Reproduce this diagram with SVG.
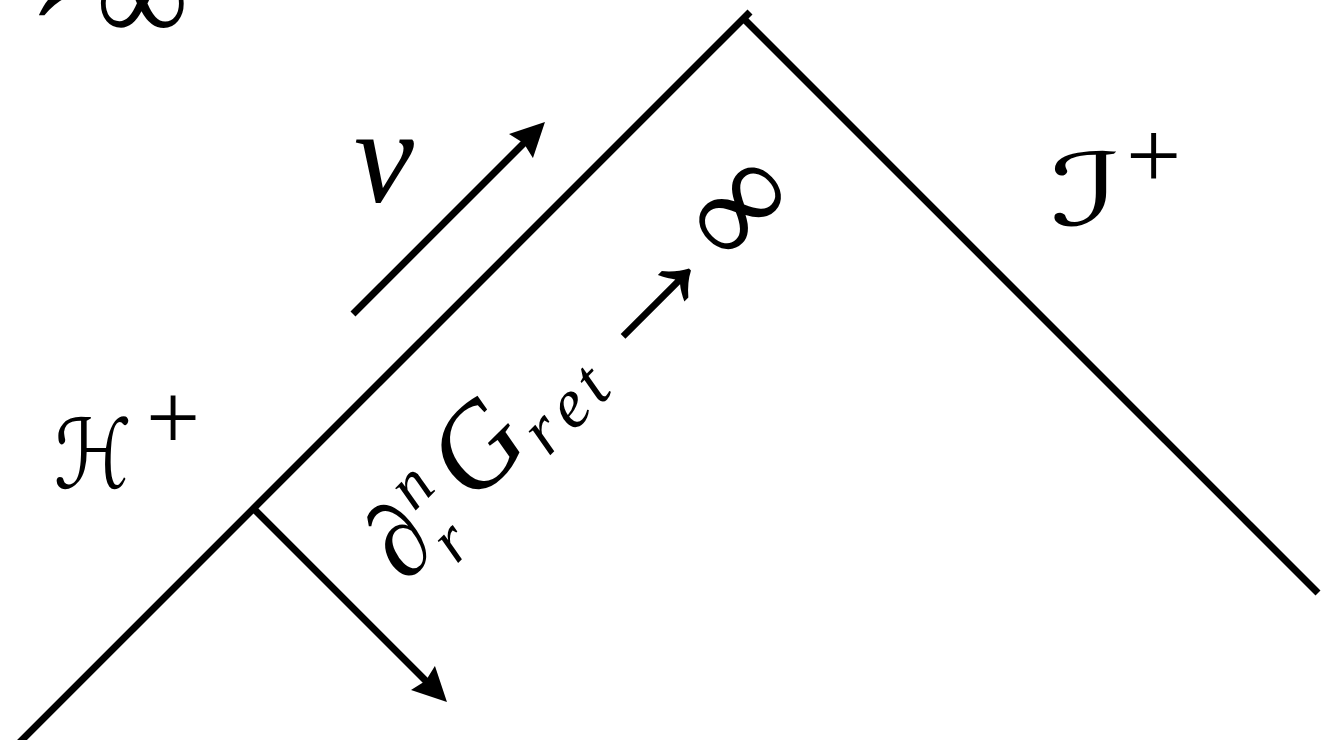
<svg xmlns="http://www.w3.org/2000/svg" width="1324" height="740" viewBox="0 0 1324 740">
<style>
.line{stroke:#000;stroke-width:7;fill:none;stroke-linecap:butt}
.arr{marker-end:url(#head)}
.math{font-family:"Liberation Serif","DejaVu Serif",serif;font-style:italic;fill:#000}
.sym{font-family:"Liberation Serif","DejaVu Serif",serif;font-style:normal;fill:#000}
.cal{font-family:"DejaVu Serif","DejaVu Sans","Noto Sans",serif;font-style:normal;fill:#000}
</style>
<defs>
<marker id="head" markerUnits="userSpaceOnUse" viewBox="0 -17 34 34" markerWidth="34" markerHeight="34" refX="10" refY="0" orient="auto">
<path d="M34,0 L0,-17 L4,0 L0,17 Z" fill="#000"/>
</marker>
</defs>
<rect width="1324" height="740" fill="#fff"/>
<g id="connectors">
<line id="horizon" class="line" x1="18" y1="744" x2="750" y2="12"/>
<line id="scri" class="line" x1="744" y1="19" x2="1318" y2="593"/>
<line id="v-arrow" class="line arr" x1="353" y1="314" x2="528" y2="139"/>
<line id="r-arrow" class="line arr" x1="253" y1="508" x2="430" y2="685"/>
</g>
<g id="label-top">
<text class="sym" y="41"><tspan x="-62" y="23" font-size="160">→</tspan><tspan x="96" y="41" font-size="130">∞</tspan></text>
</g>
<g id="label-v">
<text class="math" x="384" y="202" font-size="135" text-anchor="middle">v</text>
</g>
<g id="label-H">
<text class="cal" y="488"><tspan x="54" font-size="96" textLength="78" lengthAdjust="spacingAndGlyphs">ℋ</tspan><tspan class="sym" x="146" y="449" font-size="96">+</tspan></text>
</g>
<g id="label-I">
<text class="cal" y="225"><tspan x="1050" font-size="100" textLength="72" lengthAdjust="spacingAndGlyphs">ℐ</tspan><tspan class="sym" x="1126" y="188" font-size="98">+</tspan></text>
</g>
<g id="label-dG" transform="translate(491.5,491.5) rotate(-45)">
<text class="math" text-anchor="middle"><tspan x="-100" y="4" font-size="105">∂</tspan><tspan x="-53" y="-40" font-size="66">n</tspan><tspan x="-64" y="27" font-size="66">r</tspan><tspan x="20" y="-3" font-size="118">G</tspan><tspan x="78" y="16" font-size="70">r</tspan><tspan x="115" y="16" font-size="70">e</tspan><tspan x="147" y="16" font-size="70">t</tspan><tspan class="sym" x="250" y="10" font-size="160">→</tspan><tspan x="376" y="16" font-size="140" font-style="normal">∞</tspan></text>
</g>
</svg>
